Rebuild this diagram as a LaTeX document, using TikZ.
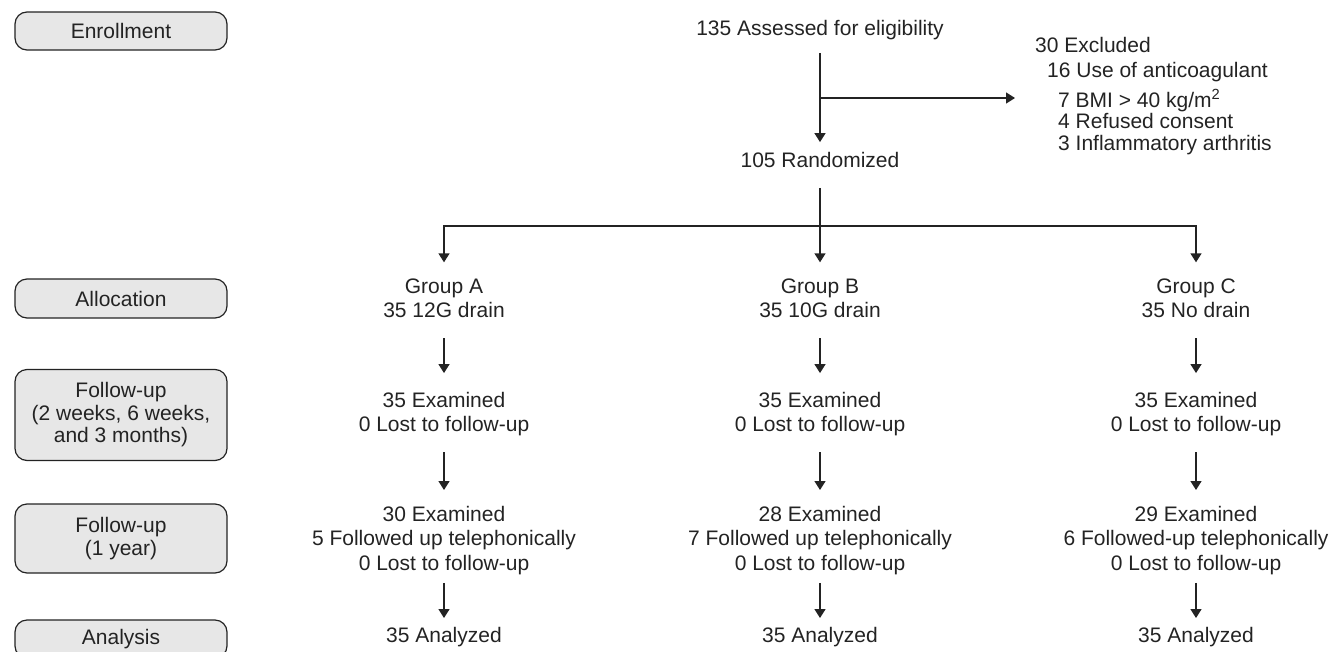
\documentclass[tikz,border=0pt]{standalone}
\usepackage{fontspec}
\setmainfont{Liberation Sans}
\usepackage{tikz}
\usetikzlibrary{arrows.meta}

\definecolor{boxfill}{RGB}{231,231,231}
\definecolor{ink}{RGB}{35,35,35}
\setlength{\lineskiplimit}{-\maxdimen}

\begin{document}
\begin{tikzpicture}[x = 1pt , y = -1pt , font = \fontsize{21}{24.5}\selectfont , text = ink ,
    stage/.style = {draw = ink , fill = boxfill , line width = 1.2pt , rounded corners = 12pt , minimum width = 212pt , align = center , inner sep = 0pt , font = \fontsize{21}{22.5}\selectfont} ,
    info/.style = {align = center , inner sep = 0pt} ,
    flow/.style = {draw = ink , line width = 1.4pt , -{Triangle[length = 9pt , width = 11pt]}}]
    \useasboundingbox (0,0) rectangle (1333,651);

    % stages on the left
    \node[stage , minimum height = 38pt] (enrol) at (121,31) {Enrollment};
    \node[stage , minimum height = 39pt] (alloc) at (121,298.5) {Allocation};
    \node[stage , minimum height = 91pt] (fuweeks) at (121,415) {Follow-up\\(2 weeks, 6 weeks,\\and 3 months)};
    \node[stage , minimum height = 69pt] (fuyear) at (121,538.5) {Follow-up\\(1 year)};
    \node[stage , minimum height = 38pt] (analysis) at (121,639) {Analysis};

    % enrollment
    \node[info] (assess) at (820,30) {135 Assessed for eligibility};
    \node[info , anchor = north west , align = left , font = \fontsize{21}{21.5}\selectfont] (excl) at (1035,37) {30 Excluded\\[3.5pt]
        \hspace*{12pt}16 Use of anticoagulant\\[8.5pt]
        \hspace*{23pt}7 BMI > 40 kg/m\textsuperscript{2}\\
        \hspace*{23pt}4 Refused consent\\
        \hspace*{23pt}3 Inflammatory arthritis};
    \node[info] (rand) at (820,160) {105 Randomized};
    \coordinate (branch) at (820,98);
    \coordinate (split) at (820,226);

    \draw[flow , shorten < = 13pt , shorten > = 10pt] (assess) -- (rand);
    \draw[flow , shorten > = 20pt] (branch) -- (branch -| excl.west); % excluded

    % three arms
    \foreach \col/\xpos/\arm/\fexam/\fphone/\fwho in {A/444/35 12G drain/30/5/Followed up,
        B/820/35 10G drain/28/7/Followed up,
        C/1196/35 No drain/29/6/Followed-up} {
        \node[info] (grp\col) at (\xpos,298.2) {Group \col\\\arm};
        \node[info] (exam\col) at (\xpos,414.3) {35 Examined\\0 Lost to follow-up};
        \node[info] (phone\col) at (\xpos,540.5) {\fexam{} Examined\\\fphone{} \fwho{} telephonically\\0 Lost to follow-up};
        \node[info] (anal\col) at (\xpos,637) {35 Analyzed};
        \draw[flow , shorten < = 20pt , shorten > = 19pt] (grp\col) -- (exam\col);
        \draw[flow , shorten < = 15.5pt , shorten > = 16pt] (exam\col) -- (phone\col);
        \draw[flow , shorten < = 8pt , shorten > = 9pt] (phone\col) -- (anal\col);
    }

    \draw[flow , shorten < = 20pt , shorten > = 16pt] (rand) -- (grpB);
    \draw[flow , shorten > = 16pt] (split) -| (grpA);
    \draw[flow , shorten > = 16pt] (split) -| (grpC);
\end{tikzpicture}
\end{document}
